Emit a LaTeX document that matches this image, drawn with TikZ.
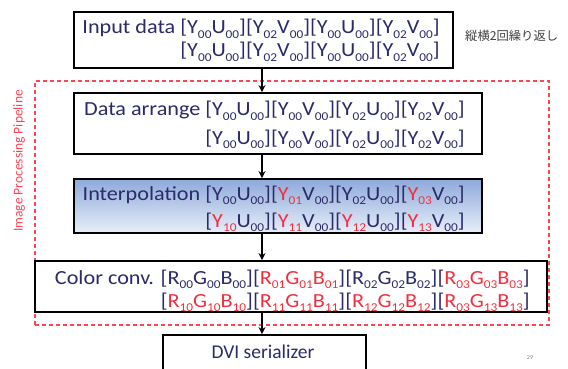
\documentclass[tikz,border=0pt]{standalone}
\usepackage{fontspec}
\setmainfont{Carlito}
\newfontfamily\widefont[FakeStretch=1.11]{Carlito}
\newfontfamily\jpfont{Noto Sans CJK JP}
\usetikzlibrary{arrows.meta}
\definecolor{nv}{HTML}{2B2A6B}
\definecolor{rd}{HTML}{F0303F}
\definecolor{pipered}{HTML}{FF4455}
\definecolor{shadetop}{HTML}{8EAADB}
\definecolor{shadebot}{HTML}{E8EEF8}
% subscript digits and red groups
\newcommand\sbs[1]{\raisebox{-0.22em}{\fontsize{12}{12}\selectfont #1}}
\newcommand\rr[1]{\textcolor{rd}{#1}}
\tikzset{
  stage/.style={draw=black, line width=1.8pt, rectangle, inner sep=0pt},
  txt/.style={inner sep=0pt, anchor=base east, text=nv, font=\widefont\fontsize{20}{20}\selectfont},
  flow/.style={-{Stealth[length=7pt,width=7pt]}, line width=1.4pt, black},
}
\begin{document}
\begin{tikzpicture}[x=1pt,y=-1pt]
\useasboundingbox (0,0) rectangle (568,369);
\clip (0,0) rectangle (568,369);

% pipeline frame
\node[draw=pipered, dashed, dash pattern=on 4pt off 3pt, line width=1.2pt,
      minimum width=514pt, minimum height=244pt, inner sep=0pt] (pipe) at (292,203) {};
\node[rotate=90, text=pipered, font=\fontsize{13.5}{13.5}\selectfont, inner sep=0pt] (pipelbl) at (19,161) {Image Processing Pipeline};

% stages
\node[stage, minimum width=379pt, minimum height=56pt, fill=white] (inp) at (263.5,40) {};
\node[stage, minimum width=408pt, minimum height=61pt, fill=white] (arr) at (278,123.5) {};
\node[stage, minimum width=408pt, minimum height=54pt, top color=shadetop, bottom color=shadebot] (intp) at (278,206) {};
\node[stage, minimum width=512pt, minimum height=51pt] (conv) at (291,286.5) {};
\node[stage, minimum width=203pt, minimum height=50pt, fill=white] (dvi) at (264.5,360) {};

% stage contents
\node[txt] (inp1) at (440,34) {Input data [Y\sbs{00}U\sbs{00}][Y\sbs{02}V\sbs{00}][Y\sbs{00}U\sbs{00}][Y\sbs{02}V\sbs{00}]};
\node[txt] (inp2) at (440,57) {[Y\sbs{00}U\sbs{00}][Y\sbs{02}V\sbs{00}][Y\sbs{00}U\sbs{00}][Y\sbs{02}V\sbs{00}]};

\node[txt] (arr1) at (465,116) {Data arrange [Y\sbs{00}U\sbs{00}][Y\sbs{00}V\sbs{00}][Y\sbs{02}U\sbs{00}][Y\sbs{02}V\sbs{00}]};
\node[txt] (arr2) at (465,144) {[Y\sbs{00}U\sbs{00}][Y\sbs{00}V\sbs{00}][Y\sbs{02}U\sbs{00}][Y\sbs{02}V\sbs{00}]};

\node[txt] (intp1) at (465,200) {Interpolation [Y\sbs{00}U\sbs{00}][\rr{Y\sbs{01}}V\sbs{00}][Y\sbs{02}U\sbs{00}][\rr{Y\sbs{03}}V\sbs{00}]};
\node[txt] (intp2) at (465,227) {[\rr{Y\sbs{10}}U\sbs{00}][\rr{Y\sbs{11}}V\sbs{00}][\rr{Y\sbs{12}}U\sbs{00}][\rr{Y\sbs{13}}V\sbs{00}]};

\node[txt] (conv1) at (530,284) {Color conv. [R\sbs{00}G\sbs{00}B\sbs{00}][\rr{R\sbs{01}G\sbs{01}B\sbs{01}}][R\sbs{02}G\sbs{02}B\sbs{02}][\rr{R\sbs{03}G\sbs{03}B\sbs{03}}]};
\node[txt] (conv2) at (530,307) {[\rr{R\sbs{10}G\sbs{10}B\sbs{10}}][\rr{R\sbs{11}G\sbs{11}B\sbs{11}}][\rr{R\sbs{12}G\sbs{12}B\sbs{12}}][\rr{R\sbs{03}G\sbs{13}B\sbs{13}}]};

\node[inner sep=0pt, text=nv, font=\fontsize{19.5}{19.5}\selectfont, anchor=base] (dvitxt) at (263,358) {DVI serializer};

% side notes
\node[text=black!75, font=\jpfont\fontsize{12.3}{12.3}\selectfont, inner sep=0pt, anchor=west] (rep) at (465,36) {縦横2回繰り返し};
\node[text=black!45, font=\fontsize{6}{6}\selectfont, inner sep=0pt] (pg) at (530,358) {29};

% flow
\draw[flow] (inp.south -| 262,0) -- (arr.north -| 262,0);
\draw[flow] (arr.south -| 262,0) -- (intp.north -| 262,0);
\draw[flow] (intp.south -| 262,0) -- (conv.north -| 262,0);
\draw[flow] (conv.south -| 262,0) -- (dvi.north -| 262,0);
\end{tikzpicture}
\end{document}
